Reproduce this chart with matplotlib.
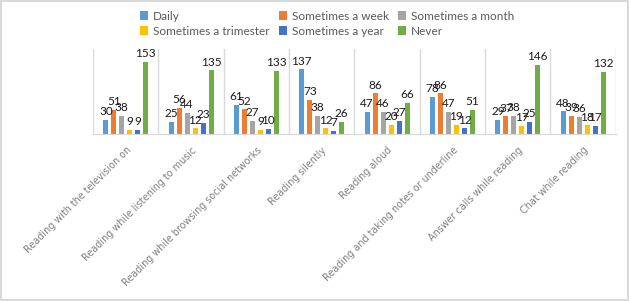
import numpy as np
import matplotlib.pyplot as plt

# categories and series
categories = ["Reading with the television on", "Reading while listening to music",
              "Reading while browsing social networks", "Reading silently",
              "Reading aloud", "Reading and taking notes or underline",
              "Answer calls while reading", "Chat while reading"]
daily = [30, 25, 61, 137, 47, 78, 29, 48]
week = [51, 56, 52, 73, 86, 86, 37, 39]
month = [38, 44, 27, 38, 46, 47, 38, 36]
trimester = [9, 12, 9, 12, 20, 19, 17, 18]
year = [9, 23, 10, 7, 27, 12, 25, 17]
never = [153, 135, 133, 26, 66, 51, 146, 132]

series_names = ["Daily", "Sometimes a week", "Sometimes a month",
                "Sometimes a trimester", "Sometimes a year", "Never"]
series_vals = [daily, week, month, trimester, year, never]
colors = ["#5B9BD5", "#ED7D31", "#A5A5A5", "#FFC000", "#4472C4", "#70AD47"]

plt.rcParams['font.family'] = ['Lato', 'DejaVu Sans']

fig = plt.figure(figsize=(6.29, 3.01), dpi=100)
fig.patch.set_edgecolor('#d9d9d9')
fig.patch.set_linewidth(1.5)
ax = fig.add_axes([0.148, 0.555, 0.831, 0.282])

x = np.arange(len(categories))
slot = 0.122
bw = 0.077
handles = {}
for i, (name, vals, c) in enumerate(zip(series_names, series_vals, colors)):
    pos = x + (i - 2.5) * slot
    bars = ax.bar(pos, vals, width=bw, color=c, label=name)
    handles[name] = bars
    for p, v in zip(pos, vals):
        ax.annotate(str(v), (p, v), xytext=(0, 2), textcoords='offset points',
                    ha='center', va='bottom', fontsize=8.5, color='#1a1a1a')

ax.set_xlim(-0.5, len(categories) - 0.5)
ax.set_ylim(0, 180)
ax.set_yticks([])
for b in np.arange(-0.5, len(categories), 1.0):
    ax.axvline(b, color='#d9d9d9', lw=1, zorder=0)
for s in ['top', 'left', 'right']:
    ax.spines[s].set_visible(False)
ax.spines['bottom'].set_color('#d9d9d9')

# wider font for the slanted labels, they are spread out in the chart
ax.set_xticks(x)
ax.set_xticklabels(categories, rotation=45, ha='right', va='top',
                   rotation_mode='anchor', fontsize=6.9, color='#808080',
                   family='DejaVu Sans')
ax.tick_params(axis='x', length=0, pad=8)

# legend filled column-wise, so reorder to get rows as in the chart
order = ["Daily", "Sometimes a trimester", "Sometimes a week",
         "Sometimes a year", "Sometimes a month", "Never"]
fig.legend([handles[n] for n in order], order, ncol=3, loc='upper left',
           bbox_to_anchor=(0.205, 1.0), frameon=False, fontsize=8.5,
           handlelength=0.7, handleheight=0.7, handletextpad=0.4,
           columnspacing=0.8, labelspacing=0.35, labelcolor='#595959')

fig.savefig('out.png', dpi=100, edgecolor=fig.get_edgecolor())
